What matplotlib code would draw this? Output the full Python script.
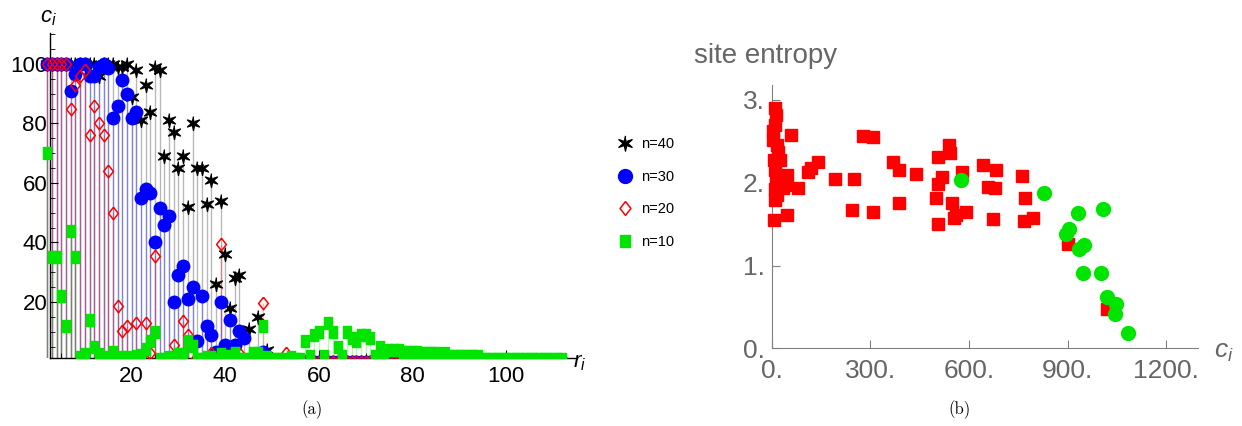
import numpy as np
import matplotlib.pyplot as plt
from matplotlib.lines import Line2D
from matplotlib.patches import Rectangle
from matplotlib.ticker import MultipleLocator, FixedLocator

plt.rcParams['font.family'] = ['Liberation Sans', 'DejaVu Sans']
plt.rcParams['mathtext.fontset'] = 'custom'
plt.rcParams['mathtext.it'] = 'Liberation Sans:italic'
plt.rcParams['mathtext.rm'] = 'Liberation Sans'

# (a) c_i against rank r_i, one series per n
ranks = np.arange(2, 113)
c40 = [100, 100, 100, 100, 100, 100, 100, 100, 100, 100, 100,
       96, 100, 100, 100, 99, 99, 100, 89, 98, 81,
       93, 84, 99, 98, 69, 81, 77, 65, 69, 52,
       80, 65, 65, 53, 61, 26, 54, 36, 18, 28,
       29, 0, 11, 0, 15, 0, 4, 0, 0, 0] + [0] * 60
c30 = [100, 100, 100, 100, 100, 91, 96.5, 100, 100, 96, 96,
       99, 100, 98.5, 82, 86, 94.5, 90, 82, 84, 55,
       58, 56.5, 40, 51.5, 46, 49, 20, 29, 32, 21,
       25, 7, 22, 12, 9, 3.3, 20, 5.5, 14, 5.5,
       10.4, 8, 0, 0.5, 0, 3.3, 0, 0, 0, 0] + [0] * 60
c20 = [100, 100, 100, 100, 100, 85, 93, 96, 98, 76, 86,
       80, 76, 64, 50, 18.7, 10.4, 12, 0, 13, 0,
       13, 2.8, 35.5, 0, 0, 0, 5.5, 0, 13.7, 9,
       0, 0, 0, 0, 3, 0, 39.5, 0, 0, 0,
       3, 0, 0, 0, 0, 19.6, 0, 0, 0, 0,
       3] + [0] * 59
c10 = [70, 35, 35, 22, 12, 44, 35, 1.6, 2.5, 14, 5,
       2.5, 1.5, 0.5, 3.3, 1, 1.5, 1.6, 1, 2, 2.2,
       4.1, 7, 10, 1, 1, 1.5, 1.5, 2.5, 2.5, 7,
       5.2, 1, 1, 1.5, 1.5, 1, 2.5, 1, 2, 2.8,
       1, 1, 1, 3, 3, 12, 1.5, 1, 1, 1,
       1, 1.5, 1, 1, 7, 2, 9, 10, 2, 13,
       10, 5, 2, 10, 8, 7, 9, 9, 8, 2,
       5, 1.8, 4, 4, 4, 3.3, 3.3, 3.3, 3.3, 2.8,
       2.8, 2.8, 2.8, 2.2, 2.8, 1.8, 1.8, 1.8, 1.8, 1.8,
       1.8, 1.8, 1, 1, 1, 1, 1, 1, 1, 1,
       1, 1, 1, 1, 1, 1, 1, 1, 1, 1]
labels_a = ['n=40', 'n=30', 'n=20', 'n=10']

# (b) site entropy against c_i
red_x = [10, 12, 10, 5, 5, 20, 25, 8, 10, 12, 20, 35, 10, 10, 7, 47, 58, 48,
         15, 15, 30, 15, 40, 81, 111, 120, 142, 193, 250, 245, 279, 307, 307,
         370, 388, 388, 439, 507, 538, 543, 517, 505, 500, 550, 562, 555, 505,
         578, 590, 644, 682, 659, 680, 672, 763, 771, 767, 796, 902, 1019]
red_y = [2.90, 2.82, 2.70, 2.62, 2.52, 2.37, 2.27, 2.27, 2.15, 2.07, 2.03,
         1.93, 1.92, 1.79, 1.55, 1.61, 2.58, 2.09, 2.45, 2.00, 1.98, 1.85,
         1.97, 1.94, 2.13, 2.18, 2.25, 2.05, 2.05, 1.67, 2.56, 2.55, 1.65,
         2.25, 2.15, 1.76, 2.11, 2.31, 2.46, 2.36, 2.07, 1.98, 1.81, 1.75,
         1.61, 1.57, 1.50, 2.13, 1.65, 2.21, 2.15, 1.95, 1.94, 1.56, 2.08,
         1.81, 1.54, 1.57, 1.26, 0.47]
green_x = [575, 829, 933, 1009, 905, 895, 950, 936, 946, 1001, 1019, 1049,
           1044, 1085]
green_y = [2.03, 1.88, 1.64, 1.68, 1.44, 1.38, 1.25, 1.20, 0.91, 0.91, 0.62,
           0.53, 0.42, 0.19]

W, H = 1242, 426
fig = plt.figure(figsize=(W / 100, H / 100), dpi=100)

GREEN = '#00e400'
ang = np.pi / 2 + np.arange(12) * np.pi / 6
star = [(r * np.cos(a), r * np.sin(a)) for a, r in zip(ang, [1, 0.3] * 6)]
diamond = [(0, 1), (0.78, 0), (0, -1), (-0.78, 0), (0, 1)]
rect = [(-0.75, -1), (0.75, -1), (0.75, 1), (-0.75, 1), (-0.75, -1)]

# ---- panel (a)
ax1 = fig.add_axes([50 / W, (H - 358) / H, 525 / W, 325 / H])
ax1.set_xlim(2.56, 114.7)
ax1.set_ylim(1.18, 110.4)
clip = Rectangle((-0.04, 0), 1.08, 1.1, transform=ax1.transAxes)

series = [(c40, 'black', dict(marker=star, color='black', ms=10)),
          (c30, 'blue', dict(marker='o', color='blue', ms=9)),
          (c20, 'red', dict(marker=diamond, mec='red', mfc='none', ms=9, mew=1.1)),
          (c10, GREEN, dict(marker=rect, color=GREEN, mec=GREEN, ms=8.5))]

for vals, col, _ in series:
    vl = ax1.vlines(ranks, 0, vals, colors=col, alpha=0.28, lw=1, zorder=1)
    vl.set_clip_path(clip)
for k, (vals, col, st) in enumerate(series):
    ln, = ax1.plot(ranks, vals, ls='none', zorder=3 + k, **st)
    ln.set_clip_path(clip)

for s in ['top', 'right']:
    ax1.spines[s].set_visible(False)
for s in ['left', 'bottom']:
    ax1.spines[s].set_color('black')
    ax1.spines[s].set_linewidth(1)
ax1.xaxis.set_major_locator(FixedLocator([20, 40, 60, 80, 100]))
ax1.yaxis.set_major_locator(FixedLocator([20, 40, 60, 80, 100]))
ax1.xaxis.set_minor_locator(MultipleLocator(5))
ax1.yaxis.set_minor_locator(MultipleLocator(5))
ax1.tick_params(which='both', direction='in', labelsize=16)
ax1.tick_params(which='major', length=6)
ax1.tick_params(which='minor', length=3.5)
ax1.tick_params(axis='x', pad=6)
ax1.tick_params(axis='y', pad=2)

handles = [Line2D([], [], ls='none', **st) for _, _, st in series]
handles[0].set_markersize(11)
handles[1].set_markersize(10)
handles[2].set_markersize(10)
handles[3].set_markersize(9)
fig.legend(handles, labels_a, loc='upper left',
           bbox_to_anchor=(618 / W, 1 - 137 / H), frameon=False,
           fontsize=10.5, handlelength=1.0, handletextpad=0.6,
           labelspacing=1.28, borderpad=0, borderaxespad=0)

fig.text(48 / W, 1 - 18 / H, '$c_i$', fontsize=16, ha='center', va='center')
fig.text(580 / W, 1 - 362 / H, '$r_i$', fontsize=16, ha='center', va='center')

# ---- panel (b)
ax2 = fig.add_axes([771.7 / W, (H - 348.3) / H, 426.3 / W, 263.3 / H])
ax2.set_xlim(0, 1297)
ax2.set_ylim(0, 3.18)
ax2.plot(red_x, red_y, ls='none', marker='s', color='red', ms=8, clip_on=False, zorder=3)
ax2.plot(green_x, green_y, ls='none', marker='o', color=GREEN, ms=10, clip_on=False, zorder=4)

GRAY = '#808080'
for s in ['top', 'right']:
    ax2.spines[s].set_visible(False)
for s in ['left', 'bottom']:
    ax2.spines[s].set_color(GRAY)
ax2.set_xticks([0, 300, 600, 900, 1200])
ax2.set_xticklabels(['0.', '300.', '600.', '900.', '1200.'])
ax2.set_yticks([0, 1, 2, 3])
ax2.set_yticklabels(['0.', '1.', '2.', '3.'])
ax2.tick_params(direction='in', length=6, color=GRAY, labelcolor='#666666', labelsize=19)
ax2.tick_params(axis='x', pad=8)
ax2.tick_params(axis='y', pad=5)

fig.text(694 / W, 1 - 56 / H, 'site entropy', fontsize=20, color='#666666',
         ha='left', va='center')
fig.text(1224 / W, 1 - 352 / H, '$c_i$', fontsize=19, color='#666666',
         ha='center', va='center')

fig.text(312 / W, 1 - 410 / H, '(a)', fontsize=12, family='cmr10', ha='center', va='center')
fig.text(960 / W, 1 - 410 / H, '(b)', fontsize=12, family='cmr10', ha='center', va='center')

fig.savefig('out.png', dpi=100)
